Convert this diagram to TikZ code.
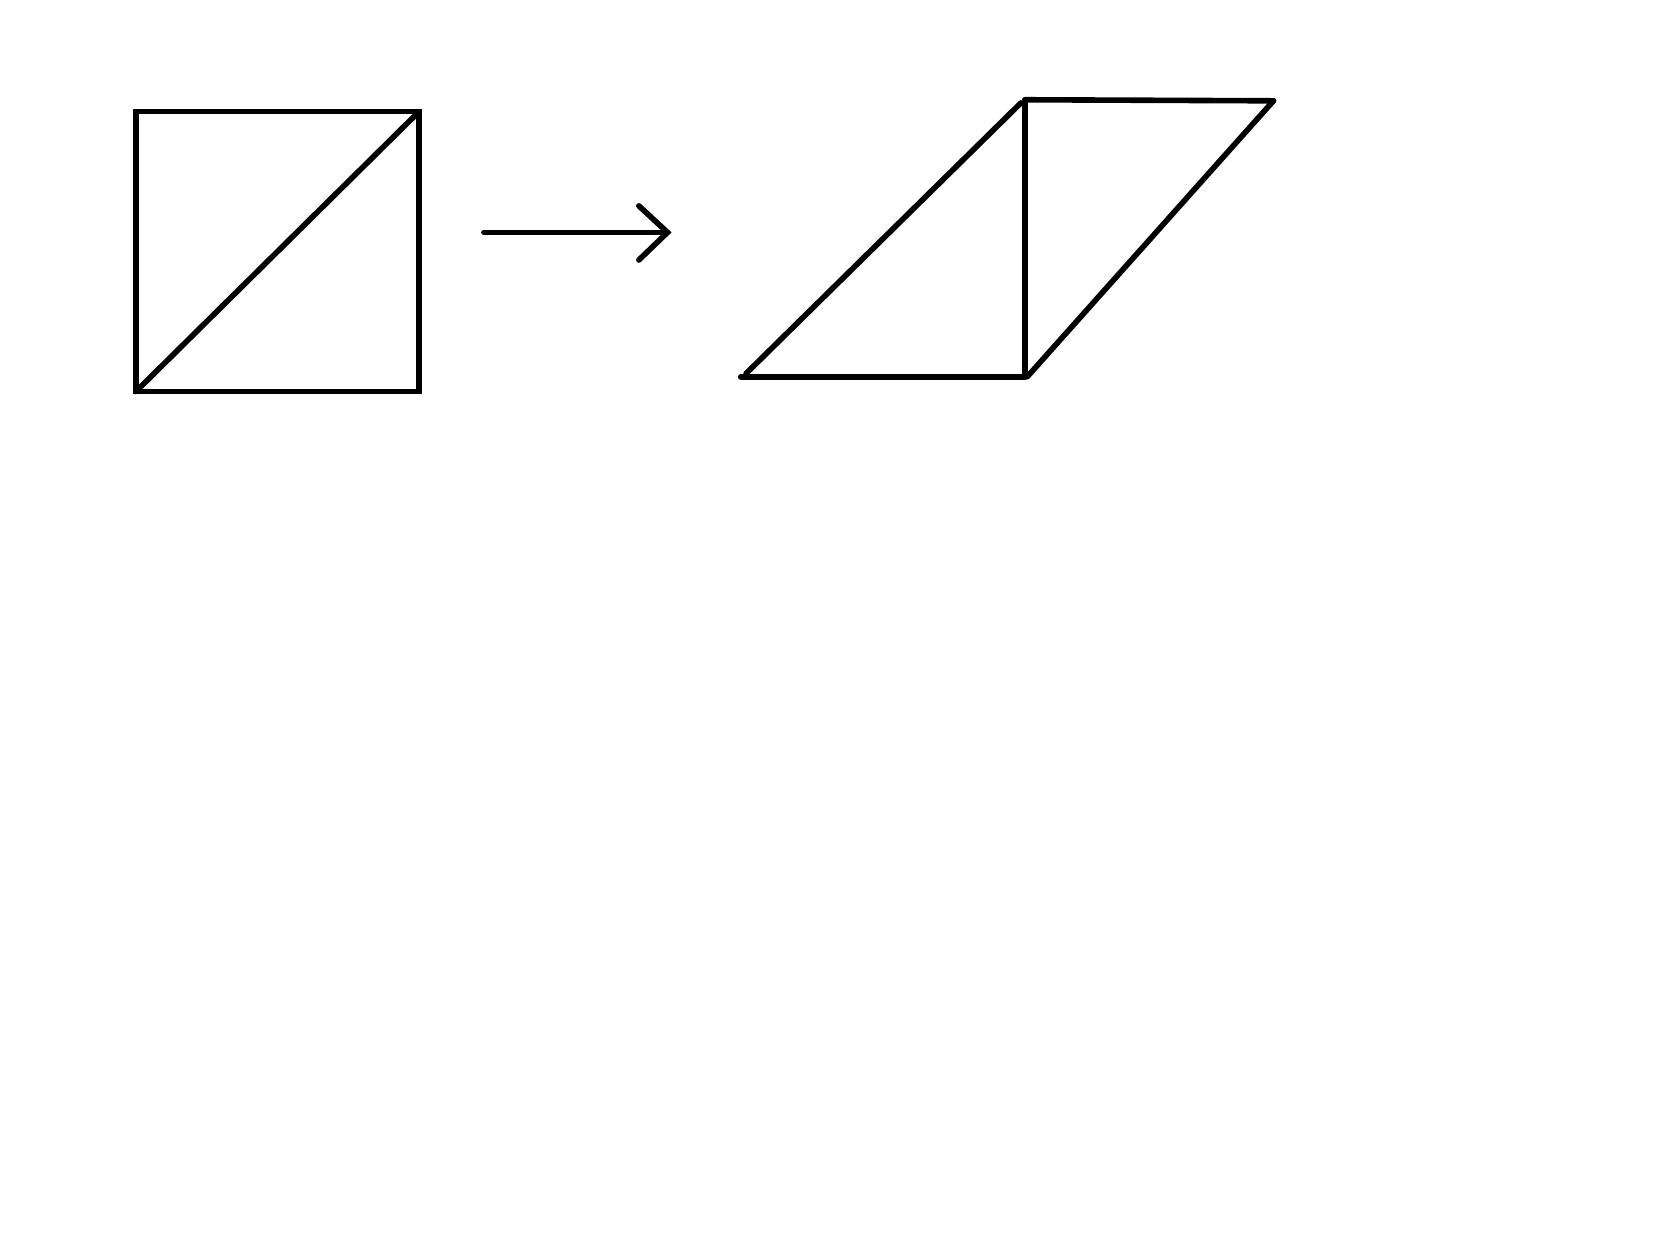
\documentclass[tikz,border=0pt]{standalone}
\begin{document}
\begin{tikzpicture}[x=0.01cm,y=-0.01cm,
  ln/.style={line width=1.5pt,black,line cap=round,line join=miter}]
\fill[white] (0,0) rectangle (1568,1176);
\useasboundingbox (0,0) rectangle (1568,1176);
% square with diagonal
\coordinate (sa) at (128,369);
\coordinate (sb) at (395,369);
\coordinate (sc) at (395,105);
\coordinate (sd) at (128,105);
\draw[ln] (sa) -- (sb) -- (sc) -- (sd) -- cycle;
\draw[ln] (sa) -- (393,107);
% arrow
\coordinate (a1) at (456,219);
\coordinate (a2) at (629,219);
\draw[ln] (a1) -- (a2);
\draw[ln] (602,194) -- (a2) -- (602,245);
% parallelogram cut and moved
\coordinate (pa) at (698,355);
\coordinate (pb) at (966,355);
\coordinate (pc) at (966,94);
\coordinate (pd) at (1200,95);
\draw[ln] (pa) -- (pb);
\draw[ln] (pb) -- (pc);
\draw[ln] (pc) -- (pd);
\draw[ln] (pd) -- (968,355);
\draw[ln] (703,352) -- (962,97);
\end{tikzpicture}
\end{document}
